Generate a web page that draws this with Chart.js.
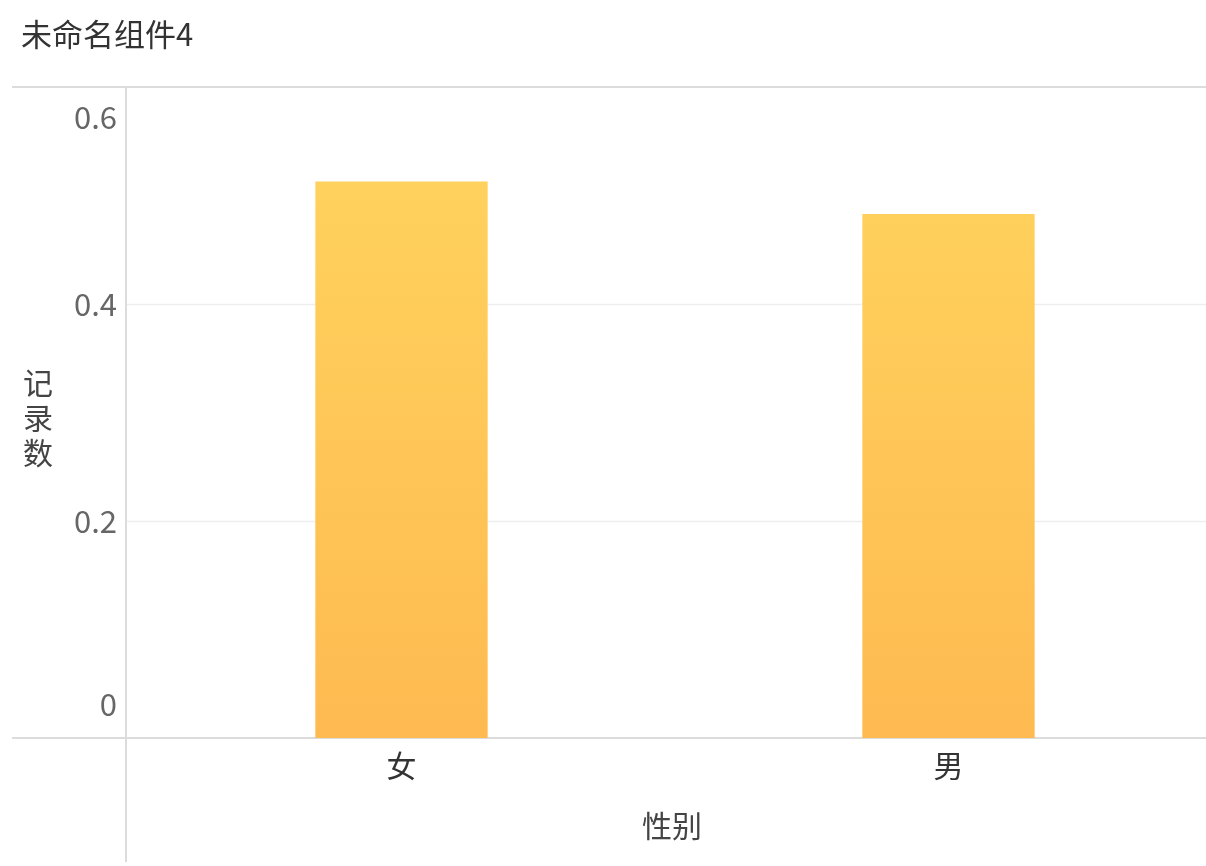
<!DOCTYPE html>
<html>
<head>
<meta charset="utf-8">
<script src="https://cdn.jsdelivr.net/npm/chart.js@4"></script>
<style>
html,body{margin:0;padding:0;background:#fff;overflow:hidden;}
#wrap{width:1222px;height:866px;}
</style>
</head>
<body>
<div id="wrap"><canvas id="c" width="1222" height="866"></canvas></div>
<script>
const chartTitle = "未命名组件4";
const categories = ["女", "男"];
const seriesName = "记录数";
const values = [0.513, 0.483];
const yTicks = [0, 0.2, 0.4, 0.6];
const xAxisTitle = "性别";
const yAxisTitle = "记录数";

const FONT = '"Noto Sans CJK SC", "Noto Sans", sans-serif';

const decor = {
  id: 'decor',
  beforeDatasetsDraw(chart) {
    const ctx = chart.ctx, y = chart.scales.y;
    ctx.save();
    yTicks.forEach(v => {
      if (v === yTicks[0] || v === yTicks[yTicks.length - 1]) return;
      const py = Math.round(y.getPixelForValue(v)) + 0.5;
      ctx.strokeStyle = '#eeeeee'; ctx.lineWidth = 1.5;
      ctx.beginPath(); ctx.moveTo(126, py); ctx.lineTo(1222, py); ctx.stroke();
    });
    [yTicks[0], yTicks[yTicks.length - 1]].forEach(v => {
      const py = y.getPixelForValue(v);
      ctx.strokeStyle = '#dcdcdc'; ctx.lineWidth = 2;
      ctx.beginPath(); ctx.moveTo(12, py); ctx.lineTo(1222, py); ctx.stroke();
    });
    ctx.strokeStyle = '#dcdcdc'; ctx.lineWidth = 2;
    ctx.beginPath(); ctx.moveTo(126, y.getPixelForValue(yTicks[yTicks.length - 1])); ctx.lineTo(126, 862); ctx.stroke();
    ctx.restore();
  },
  afterDraw(chart) {
    const ctx = chart.ctx, y = chart.scales.y, x = chart.scales.x;
    ctx.save();
    ctx.fillStyle = '#333'; ctx.font = '31px ' + FONT;
    ctx.textAlign = 'left'; ctx.textBaseline = 'middle';
    ctx.fillText(chartTitle, 21, 34);
    ctx.fillStyle = '#666'; ctx.font = '31px ' + FONT; ctx.textAlign = 'right';
    const maxV = yTicks[yTicks.length - 1], minV = yTicks[0];
    yTicks.forEach(v => {
      let py = y.getPixelForValue(v);
      if (v === maxV) py += 30;
      else if (v === minV) py -= 34;
      ctx.fillText(String(v), 117, py);
    });
    ctx.fillStyle = '#333'; ctx.font = '30px ' + FONT; ctx.textAlign = 'center';
    categories.forEach((c, i) => {
      ctx.fillText(c, x.getPixelForValue(i), 766);
    });
    ctx.fillStyle = '#444';
    ctx.fillText(xAxisTitle, 672, 826);
    [...yAxisTitle].forEach((ch, i) => {
      ctx.fillText(ch, 38, 383 + i * 35);
    });
    ctx.restore();
  }
};

new Chart(document.getElementById('c'), {
  type: 'bar',
  data: {
    labels: categories,
    datasets: [{
      label: seriesName,
      data: values,
      backgroundColor: (context) => {
        const chart = context.chart, area = chart.chartArea;
        if (!area) return '#FFC557';
        const g = chart.ctx.createLinearGradient(0, area.top, 0, area.bottom);
        g.addColorStop(0, '#FFD55F');
        g.addColorStop(1, '#FEBA50');
        return g;
      },
      borderWidth: 0,
      categoryPercentage: 1,
      barPercentage: 0.315
    }]
  },
  options: {
    responsive: false,
    animation: false,
    layout: { padding: { left: 128, top: 87, right: 0, bottom: 128 } },
    plugins: { legend: { display: false }, tooltip: { enabled: false }, title: { display: false } },
    scales: {
      x: { display: false, offset: true },
      y: { display: false, min: 0, max: 0.6, ticks: { stepSize: 0.2 } }
    }
  },
  plugins: [decor]
});
</script>
</body>
</html>
